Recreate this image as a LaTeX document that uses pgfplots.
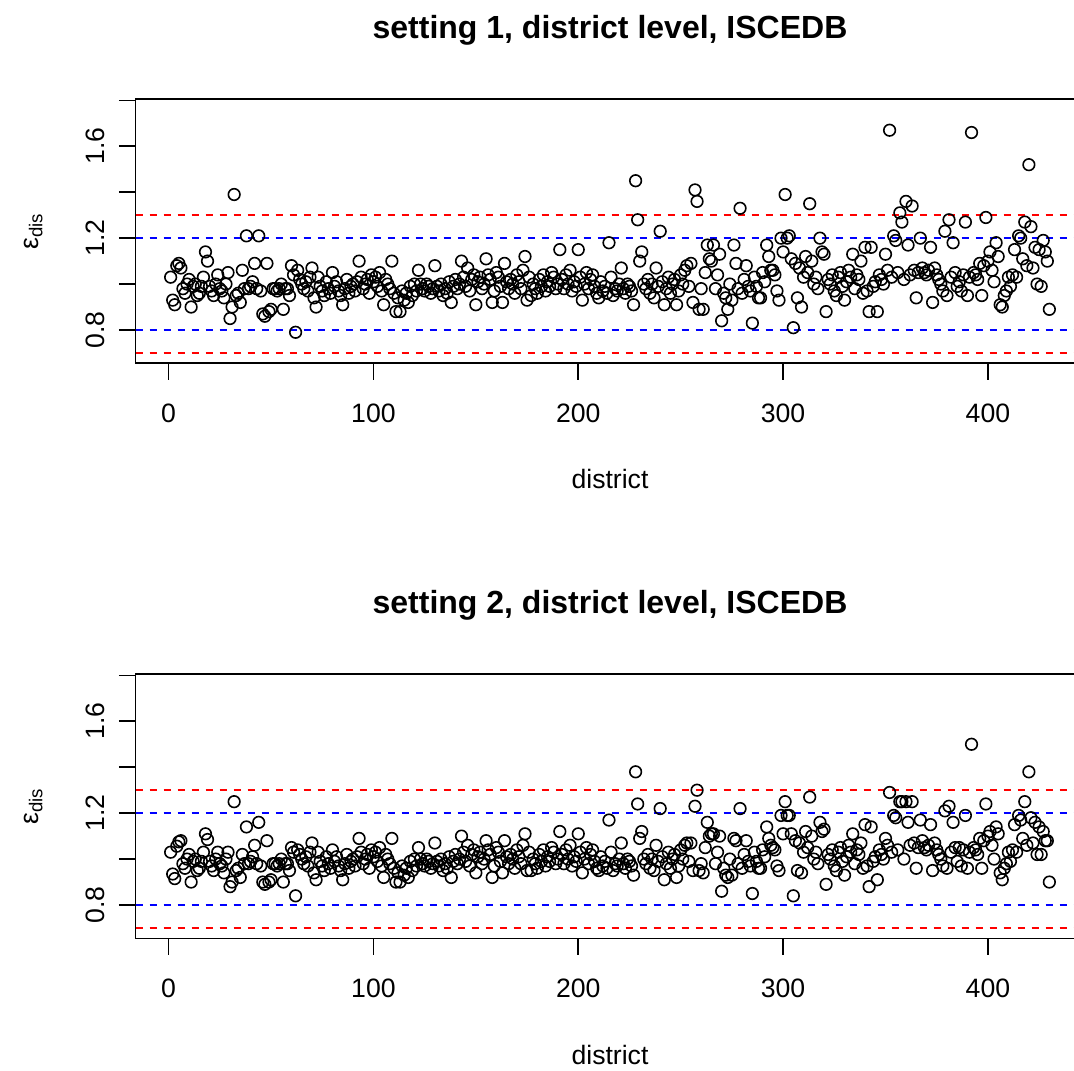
\documentclass[border=0pt]{standalone}
\usepackage{pgfplots}
\pgfplotsset{compat=1.18}
\usepackage{pgfplotstable}
\usepackage{fontspec}
\setmainfont{Liberation Sans}

\pgfplotstableread[row sep=\\]{v\\
1.03\\0.93\\0.91\\1.08\\1.09\\1.07\\0.98\\0.96\\1.00\\1.02\\
0.90\\0.99\\1.00\\0.95\\0.96\\0.99\\1.03\\1.14\\1.10\\0.99\\
0.97\\0.95\\1.00\\1.04\\0.98\\0.97\\0.94\\1.00\\1.05\\0.85\\
0.90\\1.39\\0.95\\0.96\\0.92\\1.06\\0.98\\1.21\\0.98\\0.99\\
1.01\\1.09\\0.98\\1.21\\0.97\\0.87\\0.86\\1.09\\0.88\\0.89\\
0.98\\0.98\\0.97\\0.98\\1.00\\0.89\\0.98\\0.98\\0.95\\1.08\\
1.04\\0.79\\1.06\\1.02\\1.00\\0.98\\1.01\\0.97\\1.03\\1.07\\
0.94\\0.90\\1.03\\0.99\\0.97\\0.95\\1.01\\0.98\\0.96\\1.05\\
0.99\\1.01\\0.97\\0.95\\0.91\\0.98\\1.02\\0.96\\0.99\\1.00\\
0.97\\1.01\\1.10\\1.03\\0.98\\1.00\\1.02\\0.96\\1.04\\1.01\\
1.03\\0.99\\1.05\\0.97\\0.91\\1.02\\1.00\\0.98\\1.10\\0.96\\
0.88\\0.94\\0.88\\0.97\\0.93\\0.96\\0.92\\0.99\\0.95\\1.00\\
0.97\\1.06\\1.00\\0.98\\0.97\\1.00\\0.99\\0.96\\0.98\\1.08\\
0.99\\0.97\\1.00\\0.95\\0.98\\0.96\\1.01\\0.92\\0.99\\1.02\\
0.98\\1.00\\1.10\\1.03\\0.99\\1.07\\0.97\\1.02\\1.04\\0.91\\
1.01\\1.03\\0.98\\1.00\\1.11\\1.04\\1.02\\0.92\\0.97\\1.05\\
1.03\\0.99\\0.92\\1.09\\1.01\\0.98\\1.02\\1.00\\0.96\\1.04\\
1.01\\0.98\\1.06\\1.12\\0.93\\1.03\\0.95\\1.00\\0.98\\0.96\\
1.02\\0.99\\1.04\\0.97\\1.01\\0.99\\1.05\\1.03\\0.98\\1.00\\
1.15\\1.02\\0.98\\1.04\\1.00\\1.06\\0.97\\1.01\\0.99\\1.15\\
1.03\\0.93\\1.00\\1.05\\0.98\\1.02\\1.04\\0.99\\0.96\\0.94\\
1.01\\0.97\\0.99\\0.96\\1.18\\1.03\\0.95\\0.98\\0.97\\1.00\\
1.07\\0.98\\0.96\\1.00\\0.99\\0.97\\0.91\\1.45\\1.28\\1.10\\
1.14\\1.00\\0.98\\1.02\\0.96\\1.00\\0.94\\1.07\\0.99\\1.23\\
1.01\\0.91\\0.98\\1.03\\0.96\\1.00\\1.02\\0.91\\0.97\\1.04\\
1.00\\1.06\\1.08\\0.99\\1.09\\0.92\\1.41\\1.36\\0.89\\0.98\\
0.89\\1.05\\1.17\\1.11\\1.10\\1.17\\0.98\\1.04\\1.13\\0.84\\
0.96\\0.94\\0.89\\1.00\\0.93\\1.17\\1.09\\0.98\\1.33\\0.96\\
1.02\\1.08\\0.99\\0.97\\0.83\\1.03\\0.99\\0.94\\0.94\\1.05\\
1.01\\1.17\\1.12\\1.06\\1.06\\1.04\\0.97\\0.93\\1.20\\1.14\\
1.39\\1.20\\1.21\\1.11\\0.81\\1.09\\0.94\\1.07\\0.90\\1.03\\
1.12\\1.05\\1.35\\1.10\\1.00\\1.03\\0.98\\1.20\\1.14\\1.13\\
0.88\\1.02\\1.00\\1.04\\0.97\\0.95\\1.03\\1.05\\0.99\\0.93\\
1.01\\1.06\\1.03\\1.13\\0.98\\1.04\\1.02\\1.10\\0.96\\1.16\\
0.97\\0.88\\1.16\\0.99\\1.01\\0.88\\1.04\\1.02\\1.00\\1.13\\
1.06\\1.67\\1.03\\1.21\\1.19\\1.05\\1.31\\1.27\\1.02\\1.36\\
1.17\\1.04\\1.34\\1.06\\0.94\\1.05\\1.20\\1.07\\1.05\\1.04\\
1.06\\1.16\\0.92\\1.07\\1.04\\1.02\\1.00\\0.97\\1.23\\0.95\\
1.28\\1.03\\1.18\\1.05\\0.99\\1.01\\0.97\\1.04\\1.27\\0.95\\
1.03\\1.66\\1.05\\1.04\\1.02\\1.09\\0.95\\1.08\\1.29\\1.10\\
1.14\\1.06\\1.01\\1.18\\1.12\\0.91\\0.90\\0.95\\0.97\\1.03\\
0.99\\1.04\\1.15\\1.03\\1.21\\1.20\\1.11\\1.27\\1.08\\1.52\\
1.25\\1.07\\1.16\\1.00\\1.15\\0.99\\1.19\\1.14\\1.10\\0.89\\
}\tabA

\pgfplotstableread[row sep=\\]{v\\
1.03\\0.935\\0.915\\1.056\\1.075\\1.08\\0.98\\0.96\\1.00\\1.02\\
0.90\\0.99\\1.00\\0.95\\0.96\\0.99\\1.03\\1.11\\1.085\\0.99\\
0.97\\0.95\\1.00\\1.03\\0.98\\0.97\\0.94\\1.00\\1.03\\0.88\\
0.90\\1.25\\0.95\\0.96\\0.92\\1.02\\0.98\\1.14\\0.98\\0.99\\
1.01\\1.06\\0.98\\1.16\\0.97\\0.90\\0.89\\1.08\\0.90\\0.91\\
0.98\\0.98\\0.97\\0.98\\1.00\\0.90\\0.98\\0.98\\0.95\\1.05\\
1.03\\0.84\\1.04\\1.02\\1.00\\0.98\\1.01\\0.97\\1.03\\1.07\\
0.94\\0.91\\1.03\\0.99\\0.97\\0.95\\1.01\\0.98\\0.96\\1.04\\
0.99\\1.01\\0.97\\0.95\\0.91\\0.98\\1.02\\0.96\\0.99\\1.00\\
0.97\\1.01\\1.09\\1.03\\0.98\\1.00\\1.02\\0.96\\1.04\\1.01\\
1.03\\0.99\\1.05\\0.97\\0.92\\1.02\\1.00\\0.98\\1.09\\0.96\\
0.90\\0.94\\0.90\\0.97\\0.93\\0.96\\0.92\\0.99\\0.95\\1.00\\
0.97\\1.05\\1.00\\0.98\\0.97\\1.00\\0.99\\0.96\\0.98\\1.07\\
0.99\\0.97\\1.00\\0.95\\0.98\\0.96\\1.01\\0.92\\0.99\\1.02\\
0.98\\1.00\\1.10\\1.03\\0.99\\1.06\\0.97\\1.02\\1.04\\0.94\\
1.01\\1.03\\0.98\\1.00\\1.08\\1.04\\1.02\\0.92\\0.97\\1.05\\
1.03\\0.99\\0.94\\1.08\\1.01\\0.98\\1.02\\1.00\\0.96\\1.04\\
1.01\\0.98\\1.06\\1.11\\0.95\\1.03\\0.95\\1.00\\0.98\\0.96\\
1.02\\0.99\\1.04\\0.97\\1.01\\0.99\\1.05\\1.03\\0.98\\1.00\\
1.12\\1.02\\0.98\\1.04\\1.00\\1.06\\0.97\\1.01\\0.99\\1.11\\
1.03\\0.94\\1.00\\1.05\\0.98\\1.02\\1.04\\0.99\\0.96\\0.95\\
1.01\\0.97\\0.99\\0.96\\1.17\\1.03\\0.95\\0.98\\0.97\\1.00\\
1.07\\0.98\\0.96\\1.00\\0.99\\0.97\\0.93\\1.38\\1.24\\1.09\\
1.12\\1.00\\0.98\\1.02\\0.96\\1.00\\0.95\\1.06\\0.99\\1.22\\
1.01\\0.91\\0.98\\1.03\\0.96\\1.00\\1.02\\0.92\\0.97\\1.04\\
1.00\\1.06\\1.07\\0.99\\1.07\\0.95\\1.23\\1.30\\0.95\\0.98\\
0.94\\1.05\\1.16\\1.10\\1.11\\1.11\\0.98\\1.03\\1.10\\0.86\\
0.96\\0.93\\0.92\\1.00\\0.93\\1.09\\1.08\\0.98\\1.22\\0.96\\
1.02\\1.08\\0.99\\0.97\\0.85\\1.03\\0.99\\0.96\\0.96\\1.04\\
1.01\\1.14\\1.09\\1.06\\1.05\\1.04\\0.97\\0.95\\1.19\\1.11\\
1.25\\1.19\\1.19\\1.11\\0.84\\1.08\\0.95\\1.07\\0.94\\1.03\\
1.12\\1.05\\1.27\\1.10\\1.00\\1.03\\0.98\\1.16\\1.12\\1.13\\
0.89\\1.02\\1.00\\1.04\\0.97\\0.95\\1.03\\1.05\\0.99\\0.93\\
1.01\\1.06\\1.03\\1.11\\0.98\\1.04\\1.02\\1.07\\0.96\\1.15\\
0.97\\0.88\\1.14\\0.99\\1.01\\0.91\\1.04\\1.02\\1.00\\1.09\\
1.06\\1.29\\1.03\\1.19\\1.18\\1.04\\1.25\\1.25\\1.00\\1.25\\
1.16\\1.06\\1.25\\1.07\\0.96\\1.05\\1.17\\1.08\\1.05\\1.04\\
1.06\\1.15\\0.95\\1.07\\1.04\\1.02\\1.00\\0.97\\1.21\\0.96\\
1.23\\1.03\\1.16\\1.05\\0.99\\1.05\\0.97\\1.04\\1.19\\0.96\\
1.03\\1.50\\1.05\\1.04\\1.02\\1.09\\0.96\\1.08\\1.24\\1.10\\
1.12\\1.06\\1.00\\1.14\\1.11\\0.94\\0.91\\0.96\\0.98\\1.03\\
0.99\\1.04\\1.15\\1.03\\1.19\\1.17\\1.09\\1.25\\1.06\\1.38\\
1.18\\1.07\\1.16\\1.02\\1.14\\1.02\\1.12\\1.08\\1.08\\0.90\\
}\tabB

\pgfplotsset{
  panel/.style={
    scale only axis, width=474.5pt, height=132.15pt,
    xmin=-16.16, xmax=447.16, ymin=0.655, ymax=1.806,
    xtick={0,100,200,300,400}, xticklabels={0,100,200,300,400},
    ytick={0.8,1.0,1.2,1.4,1.6,1.8}, yticklabels={0.8,,1.2,,1.6,},
    tick align=outside, major tick length=8.3pt,
    xtick pos=bottom, ytick pos=left,
    tick style={line width=0.8pt, black},
    axis line style={line width=0.8pt},
    every tick label/.append style={font=\fontsize{13.3}{16}\selectfont, inner sep=0pt},
    xticklabel style={anchor=north},
    xticklabel shift=12pt,
    yticklabel style={rotate=90, anchor=south},
    yticklabel shift=7pt,
    xlabel={district},
    xlabel style={at={(axis description cs:0.5,-0.4756)}, anchor=base, inner sep=0pt, font=\fontsize{13.3}{16}\selectfont},
    ylabel={ε\textsubscript{dis}},
    ylabel style={at={(axis description cs:-0.1027,0.5)}, rotate=0, anchor=base, inner sep=0pt, font=\fontsize{13.3}{16}\selectfont},
    title style={at={(axis description cs:0.5,1.1835)}, anchor=base, inner sep=0pt, font=\bfseries\fontsize{16}{19}\selectfont},
  },
  hl/.style={line width=0.75pt, dash pattern=on 3.5pt off 3.5pt, forget plot},
  pts/.style={only marks, mark=o, mark size=2.9pt, mark options={line width=0.8pt, black}},
}

\begin{document}
\begin{tikzpicture}
\begin{axis}[panel, at={(67.75pt,353.35pt)}, anchor=south west,
  title={setting 1, district level, ISCEDB}]
\addplot[pts] table[x expr=\coordindex+1, y=v] {\tabA};
\addplot[hl, red] coordinates {(-16.16,0.7) (447.16,0.7)};
\addplot[hl, red] coordinates {(-16.16,1.3) (447.16,1.3)};
\addplot[hl, blue] coordinates {(-16.16,0.8) (447.16,0.8)};
\addplot[hl, blue] coordinates {(-16.16,1.2) (447.16,1.2)};
\end{axis}
\begin{axis}[panel, at={(67.75pt,65.85pt)}, anchor=south west,
  title={setting 2, district level, ISCEDB}]
\addplot[pts] table[x expr=\coordindex+1, y=v] {\tabB};
\addplot[hl, red] coordinates {(-16.16,0.7) (447.16,0.7)};
\addplot[hl, red] coordinates {(-16.16,1.3) (447.16,1.3)};
\addplot[hl, blue] coordinates {(-16.16,0.8) (447.16,0.8)};
\addplot[hl, blue] coordinates {(-16.16,1.2) (447.16,1.2)};
\end{axis}
\pgfresetboundingbox
\useasboundingbox (0,0) rectangle (537pt,535pt);
\end{tikzpicture}
\end{document}
